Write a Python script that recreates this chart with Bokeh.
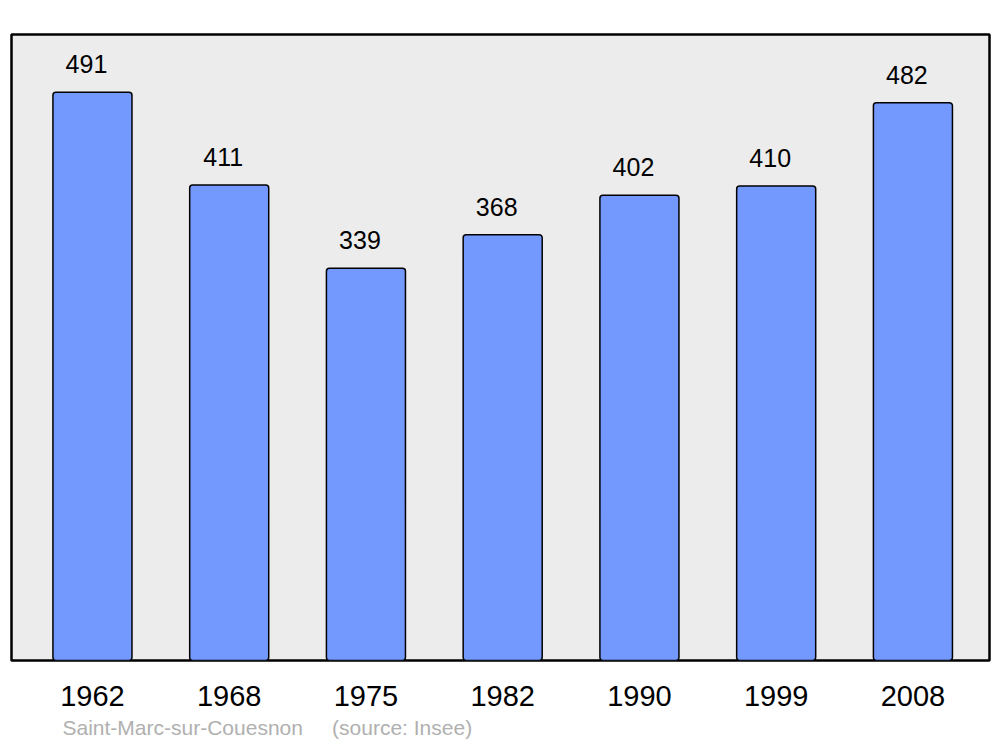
from bokeh.plotting import figure
from bokeh.models import Range1d, FixedTicker, Title, ColumnDataSource
from bokeh.embed import file_html
from bokeh.resources import INLINE

years = ["1962", "1968", "1975", "1982", "1990", "1999", "2008"]
population = [491, 411, 339, 368, 402, 410, 482]
commune = "Saint-Marc-sur-Couesnon"
source_note = "(source: Insee)"

xs = list(range(len(years)))
src = ColumnDataSource(dict(x=xs, top=population, label=[str(v) for v in population]))

p = figure(width=1000, height=745, output_backend="svg", toolbar_location=None,
           x_range=Range1d(-0.592, 6.56), y_range=Range1d(0, 541),
           min_border_left=11, min_border_right=11, min_border_top=34, min_border_bottom=85)
p.background_fill_color = "#ececec"
p.border_fill_color = "white"
p.outline_line_color = "black"
p.outline_line_width = 2.5
p.xgrid.visible = False
p.ygrid.visible = False
p.yaxis.visible = False

p.vbar(x="x", top="top", bottom=0, width=0.578, source=src,
       fill_color="#7399ff", line_color="black", line_width=1.5, border_radius=3)
p.text(x="x", y="top", text="label", source=src, x_offset=-6, y_offset=-28,
       text_align="center", text_baseline="alphabetic", text_font_size="25px",
       text_font={"value": "Liberation Sans"}, text_color="black")

ax = p.xaxis[0]
ax.ticker = FixedTicker(ticks=xs)
ax.major_label_overrides = {i: y for i, y in enumerate(years)}
ax.axis_line_color = None
ax.major_tick_line_color = None
ax.minor_tick_line_color = None
ax.major_tick_in = 0
ax.major_tick_out = 0
ax.major_label_standoff = 25
ax.major_label_text_font_size = "29px"
ax.major_label_text_font = "Liberation Sans"
ax.major_label_text_color = "black"

footer = Title(text=commune + "\u00a0\u00a0\u00a0\u00a0\u00a0" + source_note, align="left",
               offset=51, standoff=11, text_font_size="21px", text_font="Liberation Sans",
               text_font_style="normal", text_color="#b0b0b0")
p.add_layout(footer, "below")

open("out.html", "w").write(file_html(p, INLINE))
